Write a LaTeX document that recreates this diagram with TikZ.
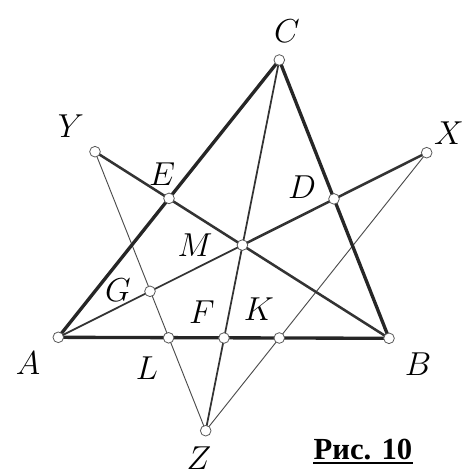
\documentclass[tikz,border=0pt]{standalone}
\usepackage{fontspec}
\newfontfamily\capfont{Liberation Serif}
\usetikzlibrary{positioning}

\begin{document}
\begin{tikzpicture}[x=0.75pt, y=-0.75pt,
		side/.style={line width=2.5pt, draw=black!85, line join=round},
		cevian/.style={line width=1.9pt, draw=black!80},
		median/.style={line width=1.3pt, draw=black!80},
		faint/.style={line width=0.7pt, draw=black!70},
		pnt/.style={circle, draw=black!65, fill=white, line width=0.6pt, inner sep=0pt, minimum size=8pt},
		lbl/.style={font=\fontsize{25}{28}\selectfont, inner sep=0pt},
		]
		\useasboundingbox (0,0) rectangle (465,475);

		% Points
		\coordinate (A) at (58.3,337.3);
		\coordinate (B) at (389,338.3);
		\coordinate (C) at (279.3,60);
		\coordinate (X) at (426.7,152.7);
		\coordinate (Y) at (95,151.7);
		\coordinate (Z) at (205.7,430.7);
		\coordinate (E) at (169,198.4);
		\coordinate (D) at (334,198.9);
		\coordinate (M) at (242.4,245.1);
		\coordinate (G) at (150,291.3);
		\coordinate (L) at (168.6,337.8);
		\coordinate (F) at (224,338);
		\coordinate (K) at (279.3,338);

		% Lines
		\draw[faint] (Y) -- (Z);
		\draw[faint] (X) -- (Z);
		\draw[median] (C) -- (Z);
		\draw[median] (A) -- (M);
		\draw[cevian] (M) -- (X);
		\draw[cevian] (Y) -- (B);
		\draw[side] (A) -- (C) -- (B) -- cycle;

		% Dots
		\foreach \p in {A,B,C,X,Y,Z,E,D,M,G,L,F,K}
			\node[pnt] (n\p) at (\p) {};

		% Labels
		\node[lbl] (lC) at (287,31) {$C$};
		\node[lbl] (lY) at (71,126) {$Y$};
		\node[lbl] (lX) at (449,133) {$X$};
		\node[lbl] (lE) at (162,174) {$E$};
		\node[lbl] (lD) at (302,187) {$D$};
		\node[lbl] (lM) at (195,245) {$M$};
		\node[lbl] (lG) at (118,290) {$G$};
		\node[lbl] (lF) at (202,312) {$F$};
		\node[lbl] (lK) at (259,309) {$K$};
		\node[lbl] (lA) at (28,363) {$A$};
		\node[lbl] (lL) at (147,368) {$L$};
		\node[lbl] (lB) at (418,364) {$B$};
		\node[lbl] (lZ) at (199,458) {$Z$};

		% Caption
		\node[font=\capfont\bfseries\fontsize{23}{26}\selectfont, inner sep=0pt, anchor=base] (cap) at (363,459) {Рис. 10};
		\draw[line width=1.5pt] ([yshift=-3pt]cap.base west) -- ([yshift=-3pt]cap.base east);
	\end{tikzpicture}
\end{document}
